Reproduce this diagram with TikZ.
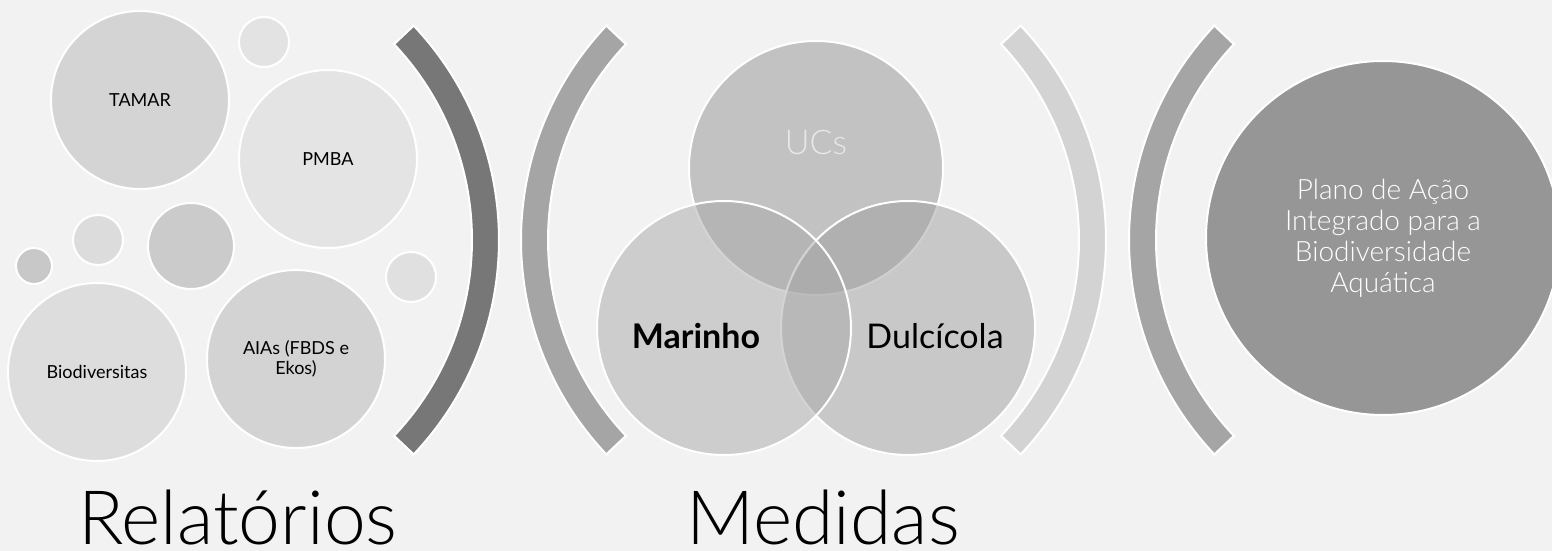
\documentclass[tikz,border=0pt]{standalone}
\usepackage{fontspec}
\setmainfont{Lato}
\newfontfamily\lightfont{Lato Light}

\definecolor{bg}{HTML}{F2F2F2}
\definecolor{brkdark}{HTML}{777777}
\definecolor{brkmid}{HTML}{A5A5A5}
\definecolor{brklight}{HTML}{D3D3D3}
\definecolor{plano}{HTML}{969696}

\tikzset{
  bubble/.style={circle, draw=white, line width=2pt, inner sep=0pt, align=center,
    font=\fontsize{18}{20}\selectfont},
  venn/.style={circle, draw=white, line width=2pt, fill opacity=0.5,
    minimum size=254pt, inner sep=0pt},
  vennlbl/.style={anchor=base, font=\fontsize{34}{36}\selectfont},
  brk/.style={draw=white, line width=2pt},
  title/.style={anchor=base, font=\lightfont\fontsize{75}{80}\selectfont},
}

\begin{document}
\begin{tikzpicture}[x=1pt,y=1pt]

	\fill[bg] (0,0) rectangle (1552,-551);
	\useasboundingbox (0,0) rectangle (1552,-551);

	% Relatorios
	\node[bubble, fill={rgb,255:red,212;green,212;blue,212}, minimum size=178pt] (tamar) at (140,-100) {TAMAR};
	\node[bubble, fill={rgb,255:red,227;green,227;blue,227}, minimum size=50pt] (sm1) at (264,-42) {};
	\node[bubble, fill={rgb,255:red,228;green,228;blue,228}, minimum size=178pt] (pmba) at (328,-159) {PMBA};
	\node[bubble, fill={rgb,255:red,200;green,200;blue,200}, minimum size=36pt] (sm2) at (34,-266) {};
	\node[bubble, fill={rgb,255:red,220;green,220;blue,220}, minimum size=50pt] (sm3) at (98,-240) {};
	\node[bubble, fill={rgb,255:red,203;green,203;blue,203}, minimum size=86pt] (sm4) at (191,-246) {};
	\node[bubble, fill={rgb,255:red,224;green,224;blue,224}, minimum size=50pt] (sm5) at (411,-277) {};
	\node[bubble, fill={rgb,255:red,221;green,221;blue,221}, minimum size=178pt] (biod) at (97,-372) {Biodiversitas};
	\node[bubble, fill={rgb,255:red,211;green,211;blue,211}, minimum size=178pt] (aias) at (296,-359) {AIAs (FBDS e\\Ekos)};

	\coordinate (c1) at (187,-240);
	\draw[brk, fill=brkdark] ([shift={(-43.4:312)}]c1) arc[start angle=-43.4, end angle=43.4, radius=312]
		-- ([shift={(43.4:285)}]c1) arc[start angle=43.4, end angle=-43.4, radius=285] -- cycle;

	% Medidas
	\coordinate (c2) at (833,-240);
	\draw[brk, fill=brkmid] ([shift={(136.6:312)}]c2) arc[start angle=136.6, end angle=223.4, radius=312]
		-- ([shift={(223.4:285)}]c2) arc[start angle=223.4, end angle=136.6, radius=285] -- cycle;

	\node[venn, fill={rgb,255:red,148;green,148;blue,148}] (ucs) at (816,-168) {};
	\node[venn, fill={rgb,255:red,160;green,160;blue,160}] (dulc) at (908,-328) {};
	\node[venn, fill={rgb,255:red,170;green,170;blue,170}] (mar) at (724,-328) {};

	\node[vennlbl, font=\lightfont\fontsize{34}{36}\selectfont, text={rgb,255:red,232;green,232;blue,232}] (ucslbl) at (816,-154) {UCs};
	\node[vennlbl, font=\fontsize{34}{36}\selectfont\bfseries] (marlbl) at (696,-348) {Marinho};
	\node[vennlbl] (dulclbl) at (935,-348) {Dulcícola};

	\coordinate (c3) at (794,-240);
	\draw[brk, fill=brklight] ([shift={(-43.4:312)}]c3) arc[start angle=-43.4, end angle=43.4, radius=312]
		-- ([shift={(43.4:285)}]c3) arc[start angle=43.4, end angle=-43.4, radius=285] -- cycle;

	% Plano
	\coordinate (c4) at (1441,-240);
	\draw[brk, fill=brkmid] ([shift={(136.6:312)}]c4) arc[start angle=136.6, end angle=223.4, radius=312]
		-- ([shift={(223.4:285)}]c4) arc[start angle=223.4, end angle=136.6, radius=285] -- cycle;

	\node[bubble, fill=plano, minimum size=354pt, text=white, font=\lightfont\fontsize{28}{31}\selectfont] (plano) at (1383,-238)
		{Plano de Ação\\Integrado para a\\Biodiversidade\\Aquática};

	\node[title] (rel) at (238,-544) {Relatórios};
	\node[title] (med) at (823,-544) {Medidas};

\end{tikzpicture}
\end{document}
